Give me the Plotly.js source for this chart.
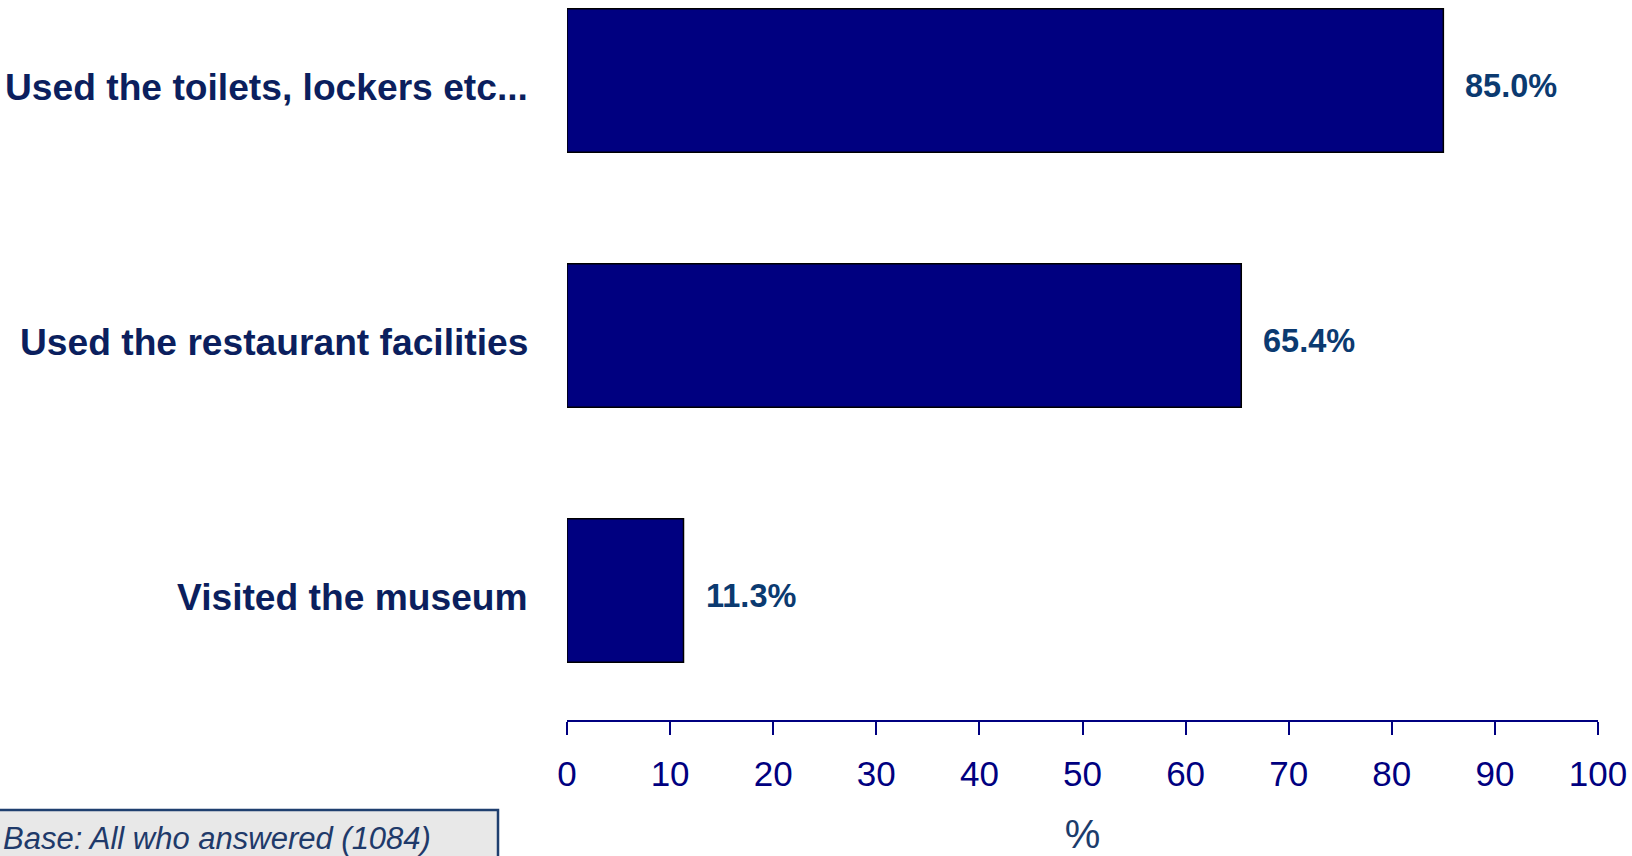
<!DOCTYPE html>
<html>
<head>
<meta charset="utf-8">
<script src="https://cdn.plot.ly/plotly-3.0.1.min.js"></script>
<style>
html,body{margin:0;padding:0;background:#fff;}
#chart{width:1632px;height:856px;}
</style>
</head>
<body>
<div id="chart"></div>
<script>
const categories = ['Visited the museum', 'Used the restaurant facilities', 'Used the toilets, lockers etc...'];
const values = [11.3, 65.4, 85.0];
const valueLabels = ['11.3%', '65.4%', '85.0%'];
const xTickValues = [0, 10, 20, 30, 40, 50, 60, 70, 80, 90, 100];
const axisTitle = '%';
const footnote = 'Base: All who answered (1084)';

const W = 1632, H = 856;
const plotL = 567, plotR = 1598, plotT = 0, plotB = 720;
const px2paperX = p => (p - plotL) / (plotR - plotL);
const px2paperY = p => (plotB - p) / (plotB - plotT);

const trace = {
  type: 'bar',
  orientation: 'h',
  y: categories,
  x: values,
  width: 0.563,
  marker: {color: '#000080', line: {color: '#000000', width: 1.5}},
  hoverinfo: 'skip'
};

const annotations = values.map((v, i) => ({
  x: v, y: categories[i], xref: 'x', yref: 'y',
  text: '<b>' + valueLabels[i] + '</b>',
  showarrow: false, xanchor: 'left', yanchor: 'middle',
  xshift: 20, yshift: -6,
  font: {family: 'Liberation Sans, Arial, sans-serif', size: 32.5, color: '#0b3a70'}
}));

// category labels (y axis labels), drawn beside the axis
categories.forEach(c => annotations.push({
  x: 0, y: c, xref: 'paper', yref: 'y',
  text: '<b>' + c + '</b>',
  showarrow: false, xanchor: 'right', yanchor: 'middle',
  xshift: -37, yshift: -7,
  font: {family: 'Liberation Sans, Arial, sans-serif', size: 37.2, color: '#0b1f5e'}
}));

annotations.push({
  xref: 'paper', yref: 'paper',
  x: px2paperX(1), y: px2paperY(838),
  xanchor: 'left', yanchor: 'middle',
  text: '<i>' + footnote + '</i>', showarrow: false,
  font: {family: 'Liberation Sans, Arial, sans-serif', size: 31, color: '#1f3a6a'}
});

const layout = {
  width: W, height: H,
  margin: {l: plotL, r: W - plotR, t: plotT, b: H - plotB, pad: 0},
  paper_bgcolor: '#ffffff', plot_bgcolor: 'rgba(0,0,0,0)',
  showlegend: false,
  bargap: 0,
  xaxis: {
    range: [0, 100], tickvals: xTickValues, ticktext: xTickValues.map(String),
    showgrid: false, zeroline: false,
    showline: true, linecolor: '#000080', linewidth: 2,
    ticks: 'outside', ticklen: 13, tickwidth: 2, tickcolor: '#000080',
    ticklabelstandoff: 9,
    tickfont: {family: 'Liberation Sans Narrow, Arial Narrow, Liberation Sans, sans-serif', size: 35, color: '#000080'},
    title: {text: axisTitle, standoff: 31, font: {family: 'Liberation Sans, Arial, sans-serif', size: 40, color: '#1c3c6c'}},
    fixedrange: true
  },
  yaxis: {
    type: 'category', categoryorder: 'array', categoryarray: categories,
    range: [-0.508, 2.3155],
    showgrid: false, zeroline: false, showline: false,
    ticks: '', showticklabels: false,
    fixedrange: true
  },
  shapes: [{
    type: 'rect', xref: 'paper', yref: 'paper',
    x0: px2paperX(-10), x1: px2paperX(498), y0: px2paperY(810), y1: px2paperY(880),
    fillcolor: '#e8e8e8', line: {color: '#1f3f6f', width: 2.5}, layer: 'below'
  }],
  annotations: annotations
};

Plotly.newPlot('chart', [trace], layout, {displayModeBar: false, staticPlot: true});
</script>
</body>
</html>
